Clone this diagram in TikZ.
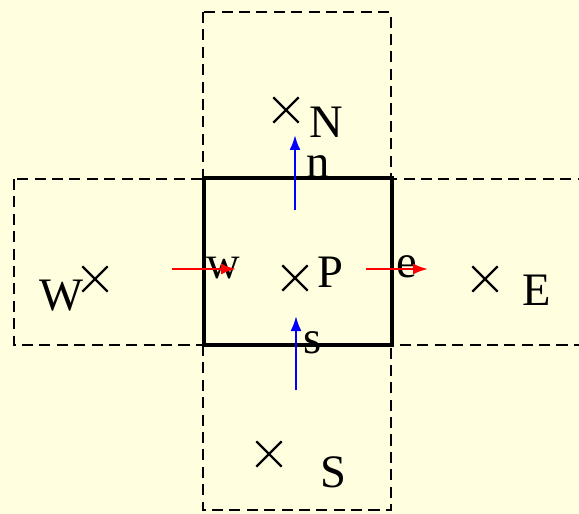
\documentclass[tikz,border=0pt]{standalone}
\usepackage{fontspec}
\setmainfont{Liberation Serif}
\usepackage{tikz}
\usetikzlibrary{arrows.meta, shapes.misc}
\definecolor{paleyellow}{RGB}{255,255,224}
\tikzset{
  nbrcell/.style={
    draw=black,
    line width=1.4pt,
    dash pattern=on 6.3pt off 3.6pt
  },
  maincell/.style={
    draw=black,
    line width=2.3pt
  },
  gridpt/.style={
    cross out,
    draw=black,
    line width=1.3pt,
    minimum size=0.46cm,
    inner sep=0pt
  },
  ptlabel/.style={
    anchor=base,
    inner sep=0pt,
    font=\fontsize{26.5}{28}\selectfont
  },
  xflux/.style={-{Latex[length=3mm, width=2.2mm]}, line width=1.3pt, draw=red},
  yflux/.style={-{Latex[length=3mm, width=2.2mm]}, line width=1.3pt, draw=blue}
}
\begin{document}
\begin{tikzpicture}[x=0.02cm, y=-0.02cm]
  \clip (0,0) rectangle (579,514);
  \fill[paleyellow] (0,0) rectangle (579,514);

  % neighbouring control volumes
  \draw[nbrcell] (203,12) rectangle (391,178);
  \draw[nbrcell] (203,345) rectangle (391,510);
  \draw[nbrcell] (14,179) rectangle (203,345);
  \draw[nbrcell] (392,179) rectangle (620,345);
  % control volume around P
  \draw[maincell] (204,178) rectangle (392,345);

  % grid points
  \node[gridpt] (P) at (295,278) {};
  \node[gridpt] (N) at (286,110) {};
  \node[gridpt] (S) at (269,454) {};
  \node[gridpt] (W) at (95,279) {};
  \node[gridpt] (E) at (485,279) {};

  \node[ptlabel] (Plbl) at (330,287) {P};
  \node[ptlabel] (Nlbl) at (326,137) {N};
  \node[ptlabel] (Slbl) at (333,487) {S};
  \node[ptlabel] (Wlbl) at (61,310) {W};
  \node[ptlabel] (Elbl) at (537,305) {E};

  % face labels
  \node[ptlabel] (nlbl) at (318,177) {n};
  \node[ptlabel] (slbl) at (313,353) {s};
  \node[ptlabel] (wlbl) at (223,278) {w};
  \node[ptlabel] (elbl) at (407,277) {e};

  % face fluxes
  \coordinate (nfrom) at (295,210);
  \coordinate (nto) at (295,135);
  \coordinate (sfrom) at (296,390);
  \coordinate (sto) at (296,316);
  \coordinate (wfrom) at (172,269);
  \coordinate (wto) at (236,269);
  \coordinate (efrom) at (366,269);
  \coordinate (eto) at (428,269);

  \draw[yflux] (nfrom) -- (nto);
  \draw[yflux] (sfrom) -- (sto);
  \draw[xflux] (wfrom) -- (wto);
  \draw[xflux] (efrom) -- (eto);
\end{tikzpicture}
\end{document}
